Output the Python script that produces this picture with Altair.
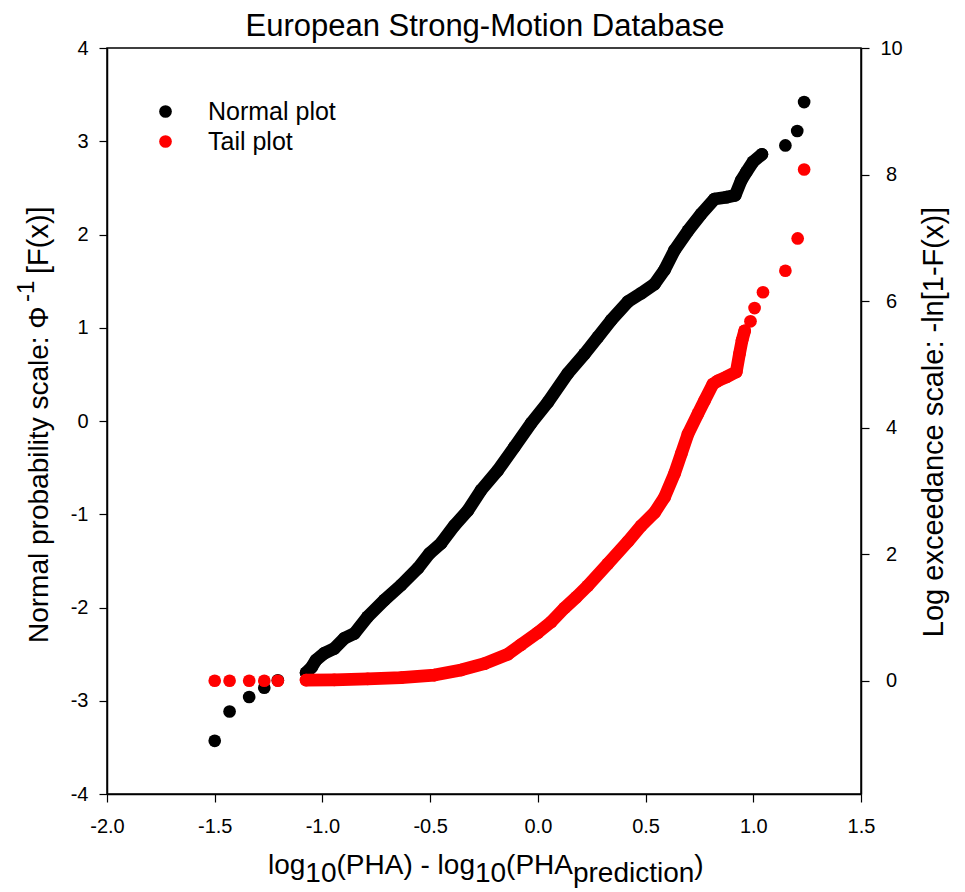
import altair as alt
import pandas as pd

# ---------------- data ----------------
series_names = ["Normal plot", "Tail plot"]
series_colors = ["#000000", "#ff0000"]

# Normal plot (left axis, Phi^-1[F(x)]) - dense part of the sample
normal_dense_x = [-1.076, -1.05, -1.03, -0.991, -0.945, -0.898, -0.852, -0.79, -0.712,
                  -0.635, -0.557, -0.503, -0.449, -0.387, -0.325, -0.263, -0.186, -0.109,
                  -0.03, 0.046, 0.139, 0.217, 0.279, 0.340, 0.418, 0.480, 0.542, 0.588,
                  0.634, 0.697, 0.758, 0.820, 0.875, 0.916, 0.944, 0.968, 0.999, 1.040]
normal_dense_y = [-2.70, -2.64, -2.565, -2.49, -2.44, -2.33, -2.28, -2.10, -1.92,
                  -1.76, -1.58, -1.42, -1.31, -1.12, -0.96, -0.74, -0.53, -0.28,
                  -0.02, 0.20, 0.51, 0.72, 0.90, 1.08, 1.28, 1.37, 1.47, 1.62,
                  1.83, 2.04, 2.22, 2.38, 2.40, 2.42, 2.58, 2.67, 2.78, 2.86]
# Normal plot - isolated extreme points
normal_iso_x = [-1.50, -1.431, -1.34, -1.27, -1.207, 1.149, 1.204, 1.236]
normal_iso_y = [-3.43, -3.115, -2.96, -2.86, -2.78, 2.955, 3.11, 3.42]

# Tail plot (right axis, -ln[1-F(x)]) - dense part
tail_dense_x = [-1.076, -0.945, -0.79, -0.635, -0.48, -0.356, -0.248, -0.139, -0.078,
                0.0, 0.062, 0.124, 0.178, 0.232, 0.325, 0.418, 0.480, 0.542, 0.588,
                0.634, 0.666, 0.697, 0.743, 0.774, 0.813, 0.836, 0.875, 0.921, 0.936,
                0.948, 0.960]
tail_dense_y = [0.01, 0.015, 0.03, 0.05, 0.09, 0.17, 0.27, 0.42, 0.57,
                0.76, 0.93, 1.15, 1.32, 1.50, 1.85, 2.20, 2.45, 2.66, 2.90,
                3.27, 3.59, 3.90, 4.22, 4.43, 4.69, 4.74, 4.80, 4.88, 5.17,
                5.38, 5.53]
# Tail plot - isolated points
tail_iso_x = [-1.50, -1.431, -1.34, -1.27, -1.207, 0.987, 1.006, 1.045, 1.149, 1.206, 1.236]
tail_iso_y = [0.0, 0.0, 0.0, 0.0, 0.0, 5.68, 5.89, 6.14, 6.48, 6.99, 8.08]

x_ticks = [-2.0, -1.5, -1.0, -0.5, 0.0, 0.5, 1.0, 1.5]
left_ticks = [-4, -3, -2, -1, 0, 1, 2, 3, 4]
right_ticks = [0, 2, 4, 6, 8, 10]

# ---------------- tables ----------------
normal_line = pd.DataFrame({"x": normal_dense_x, "y": normal_dense_y})
normal_pts = pd.DataFrame({"x": normal_dense_x + normal_iso_x,
                           "y": normal_dense_y + normal_iso_y,
                           "series": series_names[0]})
tail_line = pd.DataFrame({"x": tail_dense_x, "y": tail_dense_y})
tail_pts = pd.DataFrame({"x": tail_dense_x + tail_iso_x,
                         "y": tail_dense_y + tail_iso_y,
                         "series": series_names[1]})

FONT = "Liberation Sans"
DOT = 161
BAND = 12.7

neg_fmt1 = "datum.value < 0 ? '-' + format(-datum.value, '.1f') : format(datum.value, '.1f')"
neg_fmt0 = "datum.value < 0 ? '-' + format(-datum.value, 'd') : format(datum.value, 'd')"

X = alt.X("x:Q", scale=alt.Scale(domain=[-2.0, 1.5], nice=False, zero=False),
          axis=alt.Axis(title=None, values=x_ticks, labelExpr=neg_fmt1, labelPadding=14,
                        labelFlush=False))
Y_left = alt.Y("y:Q", scale=alt.Scale(domain=[-4, 4], nice=False, zero=False),
               axis=alt.Axis(title=None, orient="left", values=left_ticks, labelExpr=neg_fmt0,
                             labelPadding=11, labelFlush=False))
Y_right = alt.Y("y:Q", scale=alt.Scale(domain=[-1.79, 10], nice=False, zero=False),
                axis=alt.Axis(title=None, orient="right", values=right_ticks, labelExpr=neg_fmt0,
                              labelPadding=22, labelAlign="center", labelFlush=False))

color = alt.Color("series:N",
                  scale=alt.Scale(domain=series_names, range=series_colors),
                  legend=alt.Legend(title=None, orient="none", legendX=46, legendY=51,
                                    labelFontSize=25, labelFont=FONT, labelColor="black",
                                    symbolSize=DOT, symbolType="circle", symbolOpacity=1,
                                    symbolStrokeWidth=0, labelOffset=30, rowPadding=4,
                                    padding=0))

black_line = alt.Chart(normal_line).mark_line(
    color="#000000", strokeWidth=BAND, strokeCap="round", strokeJoin="round"
).encode(x=X, y=Y_left)
black_pts = alt.Chart(normal_pts).mark_circle(size=DOT, opacity=1).encode(x=X, y=Y_left, color=color)

red_line = alt.Chart(tail_line).mark_line(
    color="#ff0000", strokeWidth=BAND, strokeCap="round", strokeJoin="round"
).encode(x=X, y=Y_right)
red_pts = alt.Chart(tail_pts).mark_circle(size=DOT, opacity=1).encode(x=X, y=Y_right, color=color)

left_layer = alt.layer(black_line, black_pts)
right_layer = alt.layer(red_line, red_pts)

one = pd.DataFrame({"k": [0]})


def label(text, x, y, size, angle=0, align="left"):
    kw = dict(text=text, font=FONT, fontSize=size, color="black", align=align,
              baseline="alphabetic")
    if angle:
        kw["angle"] = angle
    return alt.Chart(one).mark_text(**kw).encode(x=alt.value(x), y=alt.value(y))


# x-axis title pieces laid end to end (28px Liberation Sans advance widths)
XT = 28
xt_start = 268 - 107
w_log, w_10, w_mid, w_pha, w_pred = 1.334 * XT, 1.112 * XT, 4.945 * XT, 2.389 * XT, 4.335 * XT
x1 = xt_start
x2 = x1 + w_log
x3 = x2 + w_10
x4 = x3 + w_mid
x5 = x4 + w_10
x6 = x5 + w_pha
x7 = x6 + w_pred
BASE = 826
SUB = 834

texts = [
    label("European Strong-Motion Database", 378, -12, 31, align="center"),
    # x-axis title with subscripts
    label("log", x1, BASE, XT),
    label("10", x2, SUB, XT),
    label("(PHA) - log", x3, BASE, XT),
    label("10", x4, SUB, XT),
    label("(PHA", x5, BASE, XT),
    label("prediction", x6, SUB, XT),
    label(")", x7, BASE, XT),
    # left axis title with superscript
    label("Normal probability scale: \u03a6", -59, 595, 28, angle=270),
    label("-1", -73, 254, 24, angle=270),
    label("[F(x)]", -59, 226, 29, angle=270),
    # right axis title
    label("Log exceedance scale: -ln[1-F(x)]", 836, 374, 29, angle=270, align="center"),
]

chart = alt.layer(left_layer, right_layer, *texts).resolve_scale(
    y="independent"
).properties(
    width=754, height=746,
    padding={"left": 99, "top": 40, "right": 96, "bottom": 96},
    autosize=alt.AutoSizeParams(type="none"),
    background="white",
).configure_view(
    stroke="black", strokeWidth=1.5
).configure_axis(
    grid=False, domainColor="black", domainWidth=1.5, tickColor="black", tickWidth=1.2,
    tickSize=8, labelColor="black", labelFont=FONT, labelFontSize=20,
)

chart.save("out.html", embed_options={"renderer": "svg", "actions": False})
